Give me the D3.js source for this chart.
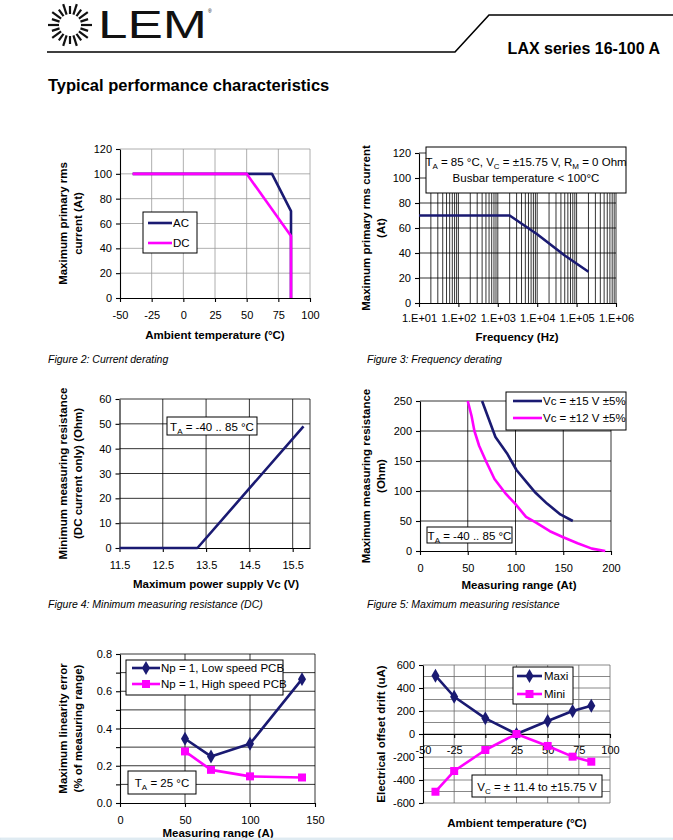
<!DOCTYPE html>
<html>
<head>
<meta charset="utf-8">
<script src="https://cdn.jsdelivr.net/npm/d3@7"></script>
<style>
body { margin: 0; background: #fff; }
svg { display: block; }
</style>
</head>
<body>
<svg width="673" height="840"></svg>
<script>
var NAVY = "#1a1a72", PINK = "#ff00ff"
var FONT = "'Liberation Sans', Arial, sans-serif"

// Figure 2: current derating
var f2TempTicks = [-50, -25, 0, 25, 50, 75, 100]
var f2AmpTicks = [0, 20, 40, 60, 80, 100, 120]
var f2AcTemp = [-40, 70, 85, 85], f2AcAmp = [100, 100, 70, 0]
var f2DcTemp = [-40, 50, 85, 85], f2DcAmp = [100, 100, 50, 0]

// Figure 3: frequency derating
var f3FreqTicks = [1e1, 1e2, 1e3, 1e4, 1e5, 1e6]
var f3FreqLabels = ["1.E+01", "1.E+02", "1.E+03", "1.E+04", "1.E+05", "1.E+06"]
var f3AmpTicks = [0, 20, 40, 60, 80, 100, 120]
var f3Freq = [10, 2000, 10000, 50000, 200000], f3Amp = [70, 70, 55, 38, 25]

// Figure 4: minimum measuring resistance
var f4VoltTicks = [11.5, 12.5, 13.5, 14.5, 15.5]
var f4OhmTicks = [0, 10, 20, 30, 40, 50, 60]
var f4Volt = [11.5, 13.3, 15.75], f4Ohm = [0, 0, 49]

// Figure 5: maximum measuring resistance
var f5RangeTicks = [0, 50, 100, 150, 200]
var f5OhmTicks = [0, 50, 100, 150, 200, 250]
var f5V15Range = [65, 72, 79, 91, 101, 112, 121, 133, 147, 160]
var f5V15Ohm = [250, 220, 190, 163, 135, 114, 97, 79, 61, 50]
var f5V12Range = [50, 54, 57, 62, 69, 78, 89, 100, 111, 122, 136, 150, 165, 180, 194]
var f5V12Ohm = [250, 225, 200, 175, 150, 120, 97, 78, 57, 47, 33, 23, 13, 4, 0]

// Figure 6: linearity error
var f6RangeTicks = [0, 50, 100, 150]
var f6ErrTicks = [0, 0.2, 0.4, 0.6, 0.8]
var f6Range = [50, 70, 100, 140]
var f6Low = [0.345, 0.25, 0.318, 0.665]
var f6High = [0.277, 0.178, 0.143, 0.137]

// Figure 7: offset drift
var f7TempTicks = [-50, -25, 0, 25, 50, 75, 100]
var f7DriftTicks = [-600, -400, -200, 0, 200, 400, 600]
var f7Temp = [-40, -25, 0, 25, 50, 70, 85]
var f7Max = [507, 324, 136, 0, 113, 200, 246]
var f7Min = [-502, -322, -139, 0, -104, -197, -241]

var svg = d3.select("svg").attr("font-family", FONT)
svg.append("rect").attr("width", 673).attr("height", 840).attr("fill", "#fff")

// ---------- header ----------
var head = svg.append("g")
var sunAngles = d3.range(20).map(i => i * 18)
head.selectAll(".ray").data(sunAngles).enter().append("line")
    .attr("x1", a => 70 + 11 * Math.cos(a * Math.PI / 180))
    .attr("y1", a => 25 + 11 * Math.sin(a * Math.PI / 180))
    .attr("x2", (a, i) => 70 + (i % 2 ? 19 : 22) * Math.cos(a * Math.PI / 180))
    .attr("y2", (a, i) => 25 + (i % 2 ? 19 : 22) * Math.sin(a * Math.PI / 180))
    .attr("stroke", "#111").attr("stroke-width", 2.2)
head.append("text").attr("x", 98).attr("y", 38).attr("font-size", 39)
    .attr("textLength", 109).attr("lengthAdjust", "spacingAndGlyphs").attr("fill", "#111").text("LEM")
head.append("text").attr("x", 208).attr("y", 13).attr("font-size", 5).text("®")
head.append("path").attr("d", "M47,52H455L489,15H673").attr("fill", "none")
    .attr("stroke", "#000").attr("stroke-width", 1.6)
head.append("text").attr("x", 660).attr("y", 54).attr("text-anchor", "end")
    .attr("font-size", 16).attr("font-weight", "bold").text("LAX series 16-100 A")
head.append("text").attr("x", 48).attr("y", 91)
    .attr("font-size", 16.5).attr("font-weight", "bold").text("Typical performance characteristics")

// ---------- helpers ----------
function rich(g, x, y, parts, anchor) {
    var t = g.append("text").attr("x", x).attr("y", y).attr("font-size", 11.5)
        .attr("text-anchor", anchor || "start")
    var shifted = false
    parts.forEach(p => {
        var s = t.append("tspan").text(p[0])
        if (p[1] == "sub") { s.attr("font-size", 8).attr("dy", 3); shifted = true }
        else if (shifted) { s.attr("dy", -3); shifted = false }
    })
    return t
}

function drawChart(o) {
    var g = svg.append("g")
    var x = o.x, y = o.y
    var xr = x.range(), yr = y.range()

    g.append("g").selectAll("line").data(o.gridX).enter().append("line")
        .attr("x1", d => x(d)).attr("x2", d => x(d)).attr("y1", yr[0]).attr("y2", yr[1])
        .attr("stroke", o.gridColor).attr("stroke-width", 0.8)
    g.append("g").selectAll("line").data(o.gridY).enter().append("line")
        .attr("x1", xr[0]).attr("x2", xr[1]).attr("y1", d => y(d)).attr("y2", d => y(d))
        .attr("stroke", o.gridColor).attr("stroke-width", 0.8)

    var xAt = o.xCross !== undefined ? y(o.xCross) : yr[0]
    var ax = g.append("g").attr("transform", "translate(0," + xAt + ")")
        .call(d3.axisBottom(x).tickValues(o.xTicks).tickFormat(o.xFmt || (d => d))
            .tickSize(4).tickSizeOuter(0).tickPadding(o.xPad || 9))
    var ay = g.append("g").attr("transform", "translate(" + xr[0] + ",0)")
        .call(d3.axisLeft(y).tickValues(o.yTicks).tickFormat(o.yFmt || (d => d))
            .tickSize(4).tickSizeOuter(0).tickPadding(4))
    ;[ax, ay].forEach(a => {
        a.attr("font-family", FONT).attr("font-size", 11)
        a.selectAll("path,line").attr("stroke", "#000").attr("stroke-width", 1.1)
        a.selectAll("text").attr("fill", "#000")
    })

    var line = d3.line().x(d => x(d[0])).y(d => y(d[1]))
    o.series.forEach(s => {
        var pts = d3.zip(s.xs, s.ys)
        g.append("path").attr("d", line(pts)).attr("fill", "none")
            .attr("stroke", s.color).attr("stroke-width", 2.6).attr("stroke-linejoin", "round")
        if (s.marker) {
            g.selectAll(null).data(pts).enter().append("path")
                .attr("d", d3.symbol().type(s.marker).size(s.marker == d3.symbolSquare ? 64 : 56))
                .attr("transform", d => "translate(" + x(d[0]) + "," + y(d[1]) + ")")
                .attr("fill", s.color)
        }
    })

    if (o.legend) {
        var L = o.legend
        g.append("rect").attr("x", L.x).attr("y", L.y).attr("width", L.w).attr("height", L.h)
            .attr("fill", "#fff").attr("stroke", "#000").attr("stroke-width", 1)
        L.rows.forEach((r, i) => {
            var s = o.series[i]
            g.append("line").attr("x1", L.x1).attr("x2", L.x2).attr("y1", r).attr("y2", r)
                .attr("stroke", s.color).attr("stroke-width", 2.6)
            if (s.marker) {
                g.append("path").attr("d", d3.symbol().type(s.marker).size(s.marker == d3.symbolSquare ? 64 : 56))
                    .attr("transform", "translate(" + (L.x1 + L.x2) / 2 + "," + r + ")").attr("fill", s.color)
            }
            g.append("text").attr("x", L.tx).attr("y", r + 4).attr("font-size", 11.5).text(s.name)
        })
    }

    if (o.note) {
        var N = o.note
        g.append("rect").attr("x", N.x).attr("y", N.y).attr("width", N.w).attr("height", N.h)
            .attr("fill", "#fff").attr("stroke", "#000").attr("stroke-width", 1)
        N.lines.forEach(l => rich(g, N.x + N.w / 2, l[0], l[1], "middle"))
    }

    o.yLabel.forEach(l => {
        g.append("text").attr("transform", "translate(" + l[0] + "," + (yr[0] + yr[1]) / 2 + ") rotate(-90)")
            .attr("text-anchor", "middle").attr("dominant-baseline", "central")
            .attr("font-size", 11.5).attr("font-weight", "bold").text(l[1])
    })
    g.append("text").attr("x", o.xTitle[0]).attr("y", o.xTitle[1]).attr("text-anchor", "middle")
        .attr("font-size", 11.5).attr("font-weight", "bold").text(o.xTitle[2])
    if (o.caption) {
        g.append("text").attr("x", o.caption[0]).attr("y", o.caption[1])
            .attr("font-size", 10.5).attr("font-style", "italic").text(o.caption[2])
    }
}

// ---------- Figure 2 ----------
drawChart({
    x: d3.scaleLinear().domain([-50, 100]).range([120, 310]),
    y: d3.scaleLinear().domain([0, 120]).range([298, 149]),
    xTicks: f2TempTicks, yTicks: f2AmpTicks,
    gridX: f2TempTicks.slice(1), gridY: f2AmpTicks.slice(1), gridColor: "#9a9a9a",
    series: [
        { name: "AC", xs: f2AcTemp, ys: f2AcAmp, color: NAVY },
        { name: "DC", xs: f2DcTemp, ys: f2DcAmp, color: PINK }
    ],
    legend: { x: 143, y: 212, w: 54, h: 41, rows: [223, 243], x1: 148, x2: 172, tx: 173 },
    yLabel: [[63, "Maximum primary rms"], [78, "current (At)"]],
    xTitle: [215, 339, "Ambient temperature (°C)"],
    caption: [48, 363, "Figure 2: Current derating"]
})

// ---------- Figure 3 ----------
var f3Minor = []
f3FreqTicks.slice(0, 5).forEach(d => { for (var k = 1; k < 10; k++) f3Minor.push(d * k) })
f3Minor.push(1e6)
drawChart({
    x: d3.scaleLog().domain([10, 1e6]).range([419, 616]),
    y: d3.scaleLinear().domain([0, 120]).range([303, 153]),
    xTicks: f3FreqTicks, yTicks: f3AmpTicks,
    xFmt: (d, i) => f3FreqLabels[i], xPad: 7,
    gridX: f3Minor.slice(1), gridY: f3AmpTicks.slice(1), gridColor: "#000",
    series: [{ name: "", xs: f3Freq, ys: f3Amp, color: NAVY }],
    note: { x: 426, y: 147, w: 200, h: 46, lines: [
        [166, [["T"], ["A", "sub"], [" = 85 °C, V"], ["C", "sub"], [" = ±15.75 V, R"], ["M", "sub"], [" = 0 Ohm"]]],
        [182, [["Busbar temperature < 100°C"]]]
    ] },
    yLabel: [[366, "Maximum primary rms current"], [381, "(At)"]],
    xTitle: [517, 341, "Frequency (Hz)"],
    caption: [367, 363, "Figure 3: Frequency derating"]
})

// ---------- Figure 4 ----------
drawChart({
    x: d3.scaleLinear().domain([11.5, 15.9]).range([119.5, 310]),
    y: d3.scaleLinear().domain([0, 60]).range([548, 399]),
    xTicks: f4VoltTicks, yTicks: f4OhmTicks,
    gridX: f4VoltTicks.slice(1).concat([15.9]), gridY: f4OhmTicks.slice(1), gridColor: "#000",
    series: [{ name: "", xs: f4Volt, ys: f4Ohm, color: NAVY }],
    note: { x: 167, y: 417, w: 90, h: 18, lines: [[430.5, [["T"], ["A", "sub"], [" = -40 .. 85 °C"]]]] },
    yLabel: [[63, "Minimum measuring resistance"], [78, "(DC current only)  (Ohm)"]],
    xTitle: [216, 588, "Maximum power supply Vc  (V)"],
    caption: [48, 608, "Figure 4: Minimum measuring resistance (DC)"]
})

// ---------- Figure 5 ----------
drawChart({
    x: d3.scaleLinear().domain([0, 200]).range([420, 611]),
    y: d3.scaleLinear().domain([0, 250]).range([551, 401]),
    xTicks: f5RangeTicks, yTicks: f5OhmTicks,
    gridX: f5RangeTicks.slice(1), gridY: f5OhmTicks.slice(1), gridColor: "#000",
    series: [
        { name: "Vc = ±15 V ±5%", xs: f5V15Range, ys: f5V15Ohm, color: NAVY },
        { name: "Vc = ±12 V ±5%", xs: f5V12Range, ys: f5V12Ohm, color: PINK }
    ],
    legend: { x: 506, y: 392, w: 120, h: 38, rows: [401, 418], x1: 513, x2: 542, tx: 543 },
    note: { x: 427, y: 527, w: 85, h: 16, lines: [[539.5, [["T"], ["A", "sub"], [" = -40 .. 85 °C"]]]] },
    yLabel: [[366, "Maximum measuring resistance"], [381, "(Ohm)"]],
    xTitle: [519, 589, "Measuring range  (At)"],
    caption: [367, 608, "Figure 5: Maximum measuring resistance"]
})

// ---------- Figure 6 ----------
var f6Grid = d3.range(1, 9).map(i => i / 10)
drawChart({
    x: d3.scaleLinear().domain([0, 150]).range([120, 315]),
    y: d3.scaleLinear().domain([0, 0.8]).range([803, 654]),
    xTicks: f6RangeTicks, yTicks: [0].concat(f6Grid),
    yFmt: d => (Math.round(d * 10) % 2 ? "" : d3.format(".1f")(d)),
    gridX: f6RangeTicks.slice(1), gridY: f6Grid, gridColor: "#000",
    series: [
        { name: "Np = 1, Low speed PCB", xs: f6Range, ys: f6Low, color: NAVY, marker: d3.symbolDiamond },
        { name: "Np = 1, High speed PCB", xs: f6Range, ys: f6High, color: PINK, marker: d3.symbolSquare }
    ],
    legend: { x: 126, y: 660, w: 157, h: 35, rows: [668, 684], x1: 132, x2: 160, tx: 161 },
    note: { x: 128, y: 771, w: 68, h: 23, lines: [[787, [["T"], ["A", "sub"], [" = 25 °C"]]]] },
    yLabel: [[63, "Maximum linearity error"], [78, "(% of measuring range)"]],
    xTitle: [218, 837, "Measuring range (A)"]
})

// ---------- Figure 7 ----------
drawChart({
    x: d3.scaleLinear().domain([-50, 100]).range([423, 610]),
    y: d3.scaleLinear().domain([-600, 600]).range([803, 665]),
    xTicks: f7TempTicks, yTicks: f7DriftTicks, xCross: 0, xPad: 8,
    gridX: f7TempTicks.slice(1), gridY: d3.range(-600, 601, 100), gridColor: "#6a6a6a",
    series: [
        { name: "Maxi", xs: f7Temp, ys: f7Max, color: NAVY, marker: d3.symbolDiamond },
        { name: "Mini", xs: f7Temp, ys: f7Min, color: PINK, marker: d3.symbolSquare }
    ],
    legend: { x: 513, y: 667, w: 60, h: 37, rows: [676, 694], x1: 517, x2: 542, tx: 544 },
    note: { x: 472, y: 775, w: 130, h: 22, lines: [[790.5, [["V"], ["C", "sub"], [" = ± 11.4 to ±15.75 V"]]]] },
    yLabel: [[381, "Electrical offset drift (uA)"]],
    xTitle: [517, 827, "Ambient temperature (°C)"]
})

// bottom band of the page viewer
svg.append("rect").attr("x", 0).attr("y", 838).attr("width", 673).attr("height", 2)
    .attr("fill", "#e6f0f6").attr("stroke", "#cfe0ea").attr("stroke-width", 0.6)
</script>
</body>
</html>
